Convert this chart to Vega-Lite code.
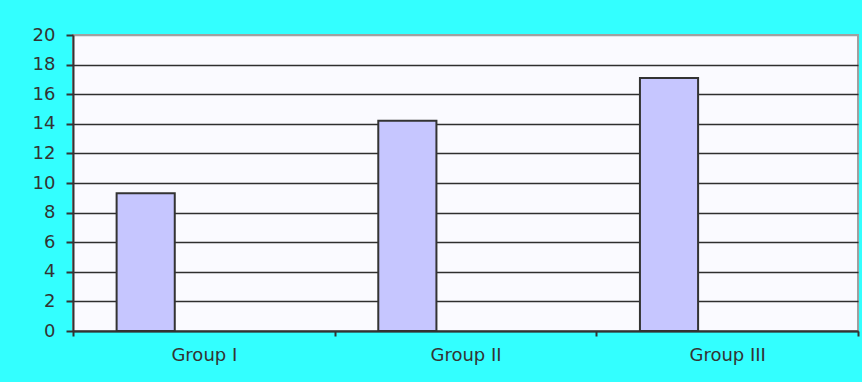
{
  "$schema": "https://vega.github.io/schema/vega-lite/v6.json",
  "autosize": "none",
  "width": 785,
  "height": 296,
  "padding": {"left": 73, "top": 35, "right": 4, "bottom": 51},
  "background": "#33FFFF",
  "data": {
    "values": [
      {"group": "Group I", "series": "S1", "value": 9.3},
      {"group": "Group II", "series": "S1", "value": 14.2},
      {"group": "Group III", "series": "S1", "value": 17.1}
    ]
  },
  "config": {
    "view": {"fill": "#FAFAFF", "stroke": "#A0A0A0", "strokeWidth": 2},
    "axis": {
      "labelFont": "DejaVu Sans",
      "labelFontSize": 18,
      "labelColor": "#333333",
      "domainColor": "#333333",
      "domainWidth": 2,
      "tickColor": "#333333",
      "tickWidth": 2,
      "title": null
    }
  },
  "mark": {"type": "bar", "fill": "#C6C6FF", "stroke": "#333333", "strokeWidth": 2},
  "encoding": {
    "x": {
      "field": "group",
      "type": "nominal",
      "sort": ["Group I", "Group II", "Group III"],
      "scale": {"paddingInner": 0, "paddingOuter": 0},
      "axis": {"labelAngle": 0, "tickBand": "extent", "tickSize": 5, "labelPadding": 10, "grid": false}
    },
    "xOffset": {
      "field": "series",
      "type": "nominal",
      "scale": {"domain": ["S1", "S2", "S3"], "paddingInner": 0, "paddingOuter": 0.75}
    },
    "y": {
      "field": "value",
      "type": "quantitative",
      "scale": {"domain": [0, 20], "nice": false},
      "axis": {
        "values": [0, 2, 4, 6, 8, 10, 12, 14, 16, 18, 20],
        "tickSize": 7,
        "labelPadding": 11,
        "grid": true,
        "gridColor": {"condition": {"test": "datum.value == 20", "value": "#A0A0A0"}, "value": "#2E2E2E"},
        "gridWidth": 1.5,
        "gridOpacity": 1
      }
    }
  }
}
